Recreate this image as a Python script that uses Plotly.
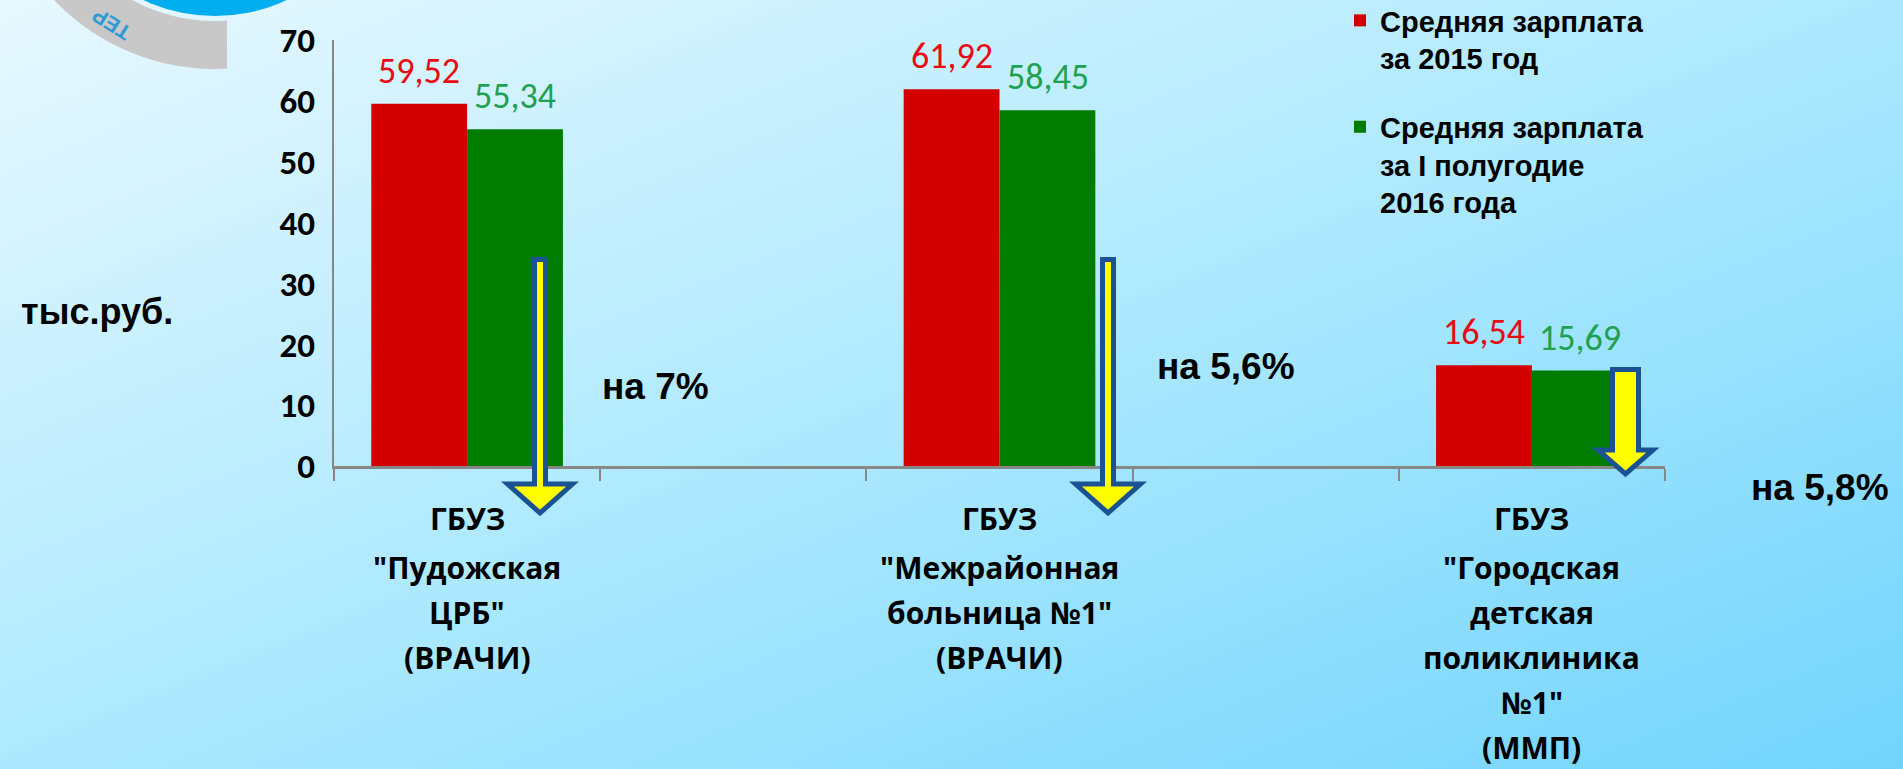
import base64
import numpy as np
import plotly.graph_objects as go

# ---------------- data ----------------
cat_lines = [
    ['ГБУЗ', '"Пудожская', 'ЦРБ"', '(ВРАЧИ)'],
    ['ГБУЗ', '"Межрайонная', 'больница №1"', '(ВРАЧИ)'],
    ['ГБУЗ', '"Городская', 'детская', 'поликлиника', '№1"', '(ММП)'],
]
categories = ['Пудожская ЦРБ', 'Межрайонная больница №1', 'Городская детская поликлиника №1']
axis_categories = [categories[0], ' ', categories[1], '  ', categories[2]]
series_names = ['<b>Средняя зарплата<br>за 2015 год</b>',
                '<b>Средняя зарплата<br>за I полугодие<br>2016 года</b>']
salary_2015 = [59.52, 61.92, 16.54]
salary_2016h1 = [55.34, 58.45, 15.69]
decrease_labels = ['на 7%', 'на 5,6%', 'на 5,8%']
y_ticks = [0, 10, 20, 30, 40, 50, 60, 70]
unit_label = 'тыс.руб.'

# ---------------- geometry helpers ----------------
W, H = 1903, 769
L, R, T, B = 334, 238, 40, 303
PW, PH = W - L - R, H - T - B


def px(x):
    return (x - L) / PW


def py(y):
    return (H - B - y) / PH


RED, GREEN = '#D40000', '#007D00'
RED_TXT, GREEN_TXT = '#EA0A14', '#20A050'
AX = '#878787'
NUM_FONT = 'Carlito, Lato, sans-serif'
LBL_FONT = 'Open Sans, sans-serif'
ARIAL = 'Liberation Sans, Arial, sans-serif'

fig = go.Figure()
fig.add_trace(go.Bar(x=categories, y=salary_2015, name=series_names[0],
                     marker=dict(color=RED, line=dict(width=0)), legendgroup='a'))
fig.add_trace(go.Bar(x=categories, y=salary_2016h1, name=series_names[1],
                     marker=dict(color=GREEN, line=dict(width=0)), legendgroup='b'))

annotations = []
# value labels
for vals, col, shift in [(salary_2015, RED_TXT, -48), (salary_2016h1, GREEN_TXT, 48)]:
    for c, v in zip(categories, vals):
        annotations.append(dict(x=c, y=v, xref='x', yref='y', xshift=shift, yshift=9,
                                xanchor='center', yanchor='bottom', showarrow=False,
                                text=f'{v:.2f}'.replace('.', ','),
                                font=dict(family=NUM_FONT, size=36, color=col)))
# category labels (one annotation per line)
for c, lines in zip(categories, cat_lines):
    for i, ln in enumerate(lines):
        off = -52 if i == 0 else -101 - 45 * (i - 1)
        annotations.append(dict(x=c, y=0, xref='x', yref='paper', yshift=off,
                                xanchor='center', yanchor='middle', showarrow=False,
                                text=f'<b>{ln}</b>',
                                font=dict(family=LBL_FONT, size=30, color='black')))
# unit label
annotations.append(dict(x=px(97), y=py(311), xref='paper', yref='paper', showarrow=False,
                        xanchor='center', yanchor='middle',
                        text=f'<b>{unit_label}</b>', font=dict(family=ARIAL, size=36, color='black')))
# decrease labels
dec_pos = [(655, 386), (1226, 366), (1820, 487)]
for t, (xx, yy) in zip(decrease_labels, dec_pos):
    annotations.append(dict(x=px(xx), y=py(yy), xref='paper', yref='paper', showarrow=False,
                            xanchor='center', yanchor='middle',
                            text=f'<b>{t}</b>', font=dict(family=ARIAL, size=37, color='black')))
# logo text
annotations.append(dict(x=px(112), y=py(24), xref='paper', yref='paper', showarrow=False,
                        xanchor='center', yanchor='middle',
                        text='<b>ТЕР</b>', textangle=-148,
                        font=dict(family=ARIAL, size=21, color='#2E9BD6')))

shapes = []
# logo: grey ring segment and blue circle
cx, cy = 215, -153
r_out, r_in, r_blue = 222, 174, 169
clip_x = 227
a_out_end = np.degrees(np.arccos((clip_x - cx) / r_out))
a_in_end = np.degrees(np.arccos((clip_x - cx) / r_in))
pts = []
for a in np.linspace(np.radians(150), np.radians(a_out_end), 60):
    pts.append((cx + r_out * np.cos(a), cy + r_out * np.sin(a)))
for a in np.linspace(np.radians(a_in_end), np.radians(150), 60):
    pts.append((cx + r_in * np.cos(a), cy + r_in * np.sin(a)))
path = 'M' + 'L'.join(f'{px(x):.5f},{py(y):.5f}' for x, y in pts) + 'Z'
shapes.append(dict(type='path', xref='paper', yref='paper', path=path,
                   fillcolor='#C8C8C8', line=dict(width=0), layer='above'))
shapes.append(dict(type='circle', xref='paper', yref='paper',
                   x0=px(cx - r_blue), x1=px(cx + r_blue), y0=py(cy + r_blue), y1=py(cy - r_blue),
                   fillcolor='#00AEEF', line=dict(width=0), layer='above'))

# down arrows (centre x, top, head start, tip, shaft half width, head half width)
arrows = [(540, 259.5, 484, 513, 5.5, 32.5),
          (1108, 259.5, 484, 513, 5.5, 32.5),
          (1625.5, 369.5, 450, 474, 13, 27.5)]
for (ax, top, hs, tip, sw, hw) in arrows:
    p = [(ax - sw, top), (ax + sw, top), (ax + sw, hs), (ax + hw, hs), (ax, tip),
         (ax - hw, hs), (ax - sw, hs)]
    path = 'M' + 'L'.join(f'{px(x):.5f},{py(y):.5f}' for x, y in p) + 'Z'
    shapes.append(dict(type='path', xref='paper', yref='paper', path=path,
                       fillcolor='#FFFF00', line=dict(color='#1A5294', width=5), layer='above'))

# background gradient
svg = (f"<svg xmlns='http://www.w3.org/2000/svg' width='{W}' height='{H}' viewBox='0 0 {W} {H}' "
       "preserveAspectRatio='none'><defs><linearGradient id='g' x1='0' y1='0' x2='1' y2='1'>"
       "<stop offset='0' stop-color='#E8F8FE'/><stop offset='0.5' stop-color='#ADE9FE'/>"
       "<stop offset='1' stop-color='#72D4FC'/></linearGradient></defs>"
       f"<rect width='{W}' height='{H}' fill='url(#g)'/></svg>")
src = 'data:image/svg+xml;base64,' + base64.b64encode(svg.encode()).decode()

fig.update_layout(
    width=W, height=H,
    margin=dict(l=L, r=R, t=T, b=B, pad=0, autoexpand=False),
    paper_bgcolor='#AEE8FC', plot_bgcolor='rgba(0,0,0,0)',
    barmode='group', bargap=0.28, bargroupgap=0,
    images=[dict(source=src, xref='paper', yref='paper', x=px(0), y=py(0),
                 sizex=W / PW, sizey=H / PH, xanchor='left', yanchor='top',
                 sizing='stretch', layer='below')],
    xaxis=dict(categoryorder='array', categoryarray=axis_categories, range=[-0.5, 4.5],
               showline=True, linecolor=AX, linewidth=3, ticks='outside', ticklen=12,
               tickwidth=2, tickcolor=AX, tickson='boundaries', showticklabels=False,
               showgrid=False, zeroline=False, fixedrange=True, automargin=False),
    yaxis=dict(range=[0, 70], tickvals=y_ticks, showline=True, linecolor=AX, linewidth=2,
               showgrid=False, zeroline=False, ticks='', ticklabelstandoff=10, automargin=False,
               tickfont=dict(family=NUM_FONT, size=35, color='black', weight='bold')),
    legend=dict(x=px(1340), y=py(-5), xanchor='left', yanchor='top', bgcolor='rgba(0,0,0,0)',
                font=dict(family=ARIAL, size=29, color='black'), tracegroupgap=28,
                valign='top', itemwidth=30),
    annotations=annotations, shapes=shapes, showlegend=True,
)

fig.write_html('out.html', config={'displayModeBar': False},
               post_script="document.body.style.margin='0';")
